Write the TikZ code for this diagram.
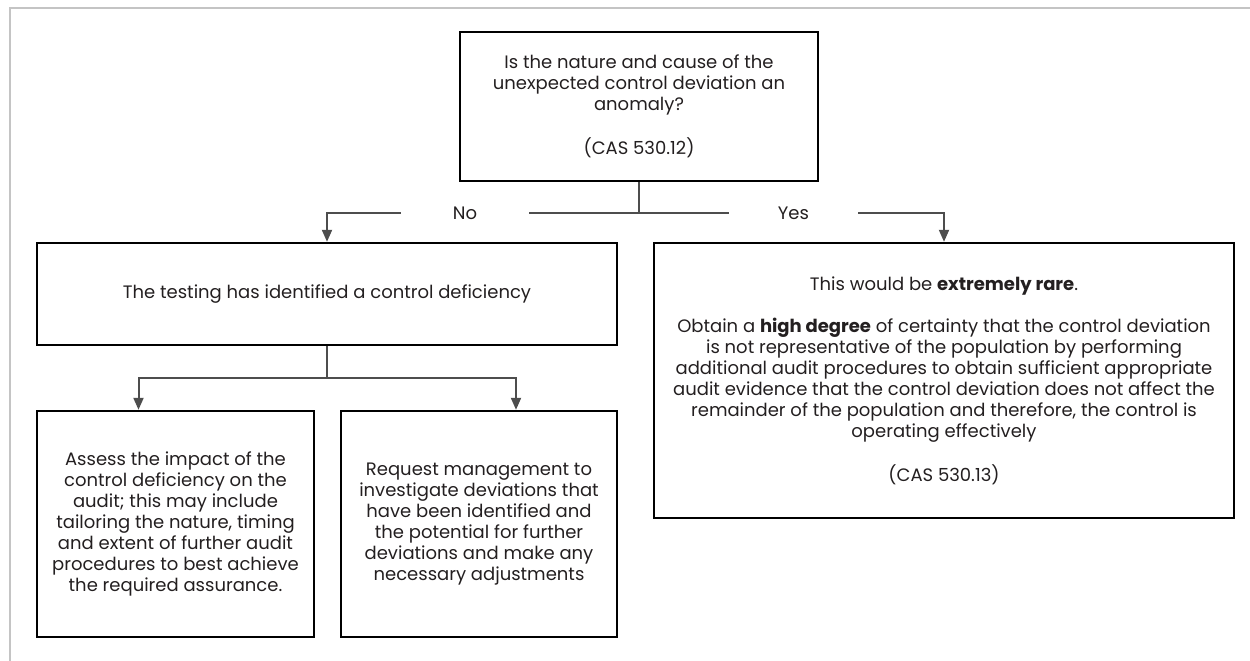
\documentclass[tikz,border=0pt]{standalone}
\usepackage{fontspec}
\setmainfont{Poppins}
\usetikzlibrary{arrows.meta}
\usetikzlibrary{positioning}

\definecolor{linkgray}{HTML}{4D4D4D}
\definecolor{framegray}{HTML}{C4C4C4}
\definecolor{inkblack}{HTML}{231F20}

\begin{document}
\begin{tikzpicture}[x=1pt,y=-1pt,>={Triangle[width=10pt,length=12pt]},
	box node/.style={draw=black,line width=2.4pt,align=center,inner sep=0pt,
		text=inkblack,font=\fontsize{18}{21}\selectfont},
	label node/.style={fill=white,inner sep=0pt,minimum height=16pt,
		text=inkblack,font=\fontsize{18}{21}\selectfont},
	link/.style={draw=linkgray,line width=2pt}]
	
	\useasboundingbox (0,0) rectangle (1250,661);
	\draw[framegray,line width=2.5pt] (10,661) -- (10,8) -- (1250,8);
	
	\node[box node,minimum width=358pt,minimum height=149pt] (q) at (639,106.5)
	{Is the nature and cause of the\\unexpected control deviation an\\anomaly?\\[21pt](CAS 530.12)};
	\node[box node,minimum width=580pt,minimum height=102pt] (def) at (327,294)
	{The testing has identified a control deficiency};
	\node[box node,minimum width=580pt,minimum height=275pt] (rare) at (944,380.5)
	{This would be \textbf{extremely rare}.\\[21pt]
	 Obtain a \textbf{high degree} of certainty that the control deviation\\
	 is not representative of the population by performing\\
	 additional audit procedures to obtain sufficient appropriate\\
	 audit evidence that the control deviation does not affect the\\
	 remainder of the population and therefore, the control is\\
	 operating effectively\\[21pt](CAS 530.13)};
	\node[box node,minimum width=277pt,minimum height=226pt] (assess) at (175.5,524)
	{Assess the impact of the\\control deficiency on the\\audit; this may include\\
	 tailoring the nature, timing\\and extent of further audit\\
	 procedures to best achieve\\the required assurance.};
	\node[box node,minimum width=276pt,minimum height=226pt] (request) at (479,524)
	{Request management to\\investigate deviations that\\have been identified and\\
	 the potential for further\\deviations and make any\\necessary adjustments};
	
	\node[label node,minimum width=128pt] (no) at (465,213) {No};
	\node[label node,minimum width=129pt] (yes) at (793.5,213) {Yes};
	
	\draw[link] (q.south) |- (no.east);
	\draw[link,->] (no.west) -| (def.north);
	\draw[link] (q.south) |- (yes.west);
	\draw[link,->] (yes.east) -| (rare.north);
	
	\draw[link] (def.south) -- ++(0,32) coordinate (fork);
	\draw[link,->] (fork) -| ([xshift=-37pt]assess.north);
	\draw[link,->] (fork) -| ([xshift=37pt]request.north);
\end{tikzpicture}
\end{document}
